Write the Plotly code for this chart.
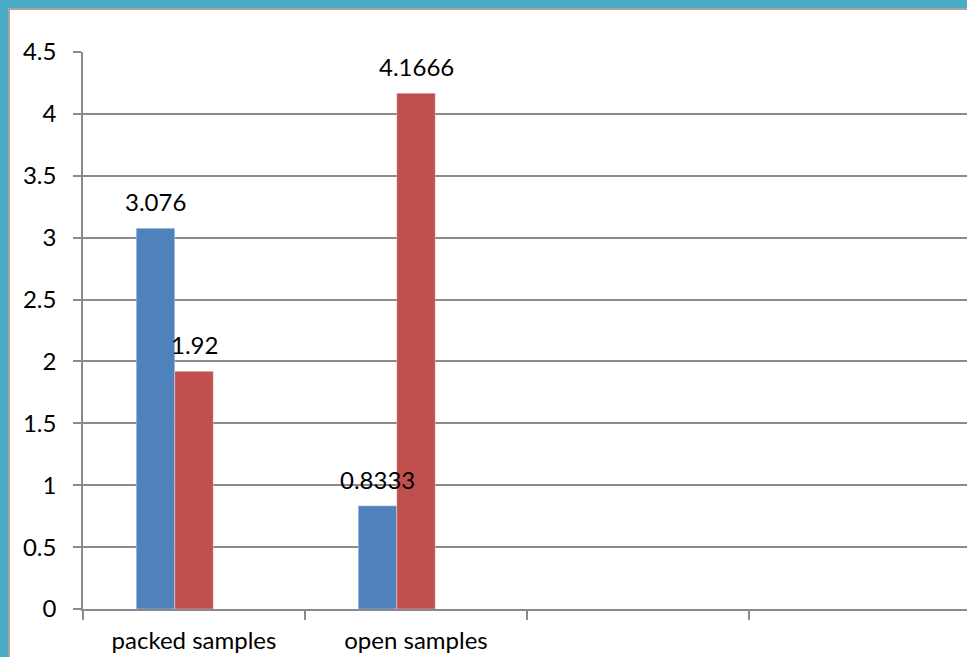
import plotly.graph_objects as go

categories = ["packed samples", "open samples", "", ""]
series_a = [3.076, 0.8333, None, None]
series_b = [1.92, 4.1666, None, None]
label_a = ["3.076", "0.8333", "", ""]
label_b = ["1.92", "4.1666", "", ""]
y_ticks = [0, 0.5, 1, 1.5, 2, 2.5, 3, 3.5, 4, 4.5]

W = 0.1735
FONT = "Lato"
FS = 24
GRID = "#8a8a8a"

xs = list(range(len(categories)))

fig = go.Figure()
fig.add_trace(go.Bar(x=xs, y=series_a, width=W, offset=-1.5 * W,
                     marker=dict(color="#4F81BD", line=dict(color="rgba(255,255,255,0.35)", width=1)),
                     showlegend=False, hoverinfo="skip"))
fig.add_trace(go.Bar(x=xs, y=series_b, width=W, offset=-0.5 * W,
                     marker=dict(color="#C0504D", line=dict(color="rgba(255,255,255,0.35)", width=1)),
                     showlegend=False, hoverinfo="skip"))

annotations = []
for i, (va, vb, la, lb) in enumerate(zip(series_a, series_b, label_a, label_b)):
    if va is not None:
        annotations.append(dict(x=i - W, y=va, text=la, xref="x", yref="y", showarrow=False,
                                yanchor="bottom", xanchor="center", yshift=10,
                                font=dict(family=FONT, size=FS, color="black")))
    if vb is not None:
        annotations.append(dict(x=i, y=vb, text=lb, xref="x", yref="y", showarrow=False,
                                yanchor="bottom", xanchor="center", yshift=10,
                                font=dict(family=FONT, size=FS, color="black")))

shapes = [dict(type="rect", xref="paper", yref="paper",
               x0=(9 - 83) / 884, x1=1.2, y0=-0.3, y1=(609 - 9) / 557,
               fillcolor="white", line=dict(color="#a6a6a6", width=2), layer="below")]

fig.update_layout(
    width=967, height=657,
    margin=dict(l=83, r=0, t=52, b=48),
    paper_bgcolor="#4BACC6",
    plot_bgcolor="white",
    barmode="overlay",
    font=dict(family=FONT, size=FS, color="black"),
    shapes=shapes,
    annotations=annotations,
    xaxis=dict(
        range=[-0.5, 3.482],
        tickmode="array", tickvals=xs, ticktext=categories,
        ticks="", showgrid=False, zeroline=False,
        showline=True, linecolor=GRID, linewidth=1.6,
        ticklabelstandoff=9,
        tickfont=dict(family=FONT, size=FS, color="black"),
        minor=dict(tickmode="array", tickvals=[-0.5, 0.5, 1.5, 2.5, 3.5],
                   ticks="outside", ticklen=9, tickwidth=1.6, tickcolor=GRID, showgrid=False),
    ),
    yaxis=dict(
        range=[0, 4.5], tickmode="array", tickvals=y_ticks,
        ticks="outside", ticklen=8, tickwidth=1.6, tickcolor=GRID,
        showgrid=True, gridcolor=GRID, gridwidth=1.6,
        zeroline=False, showline=True, linecolor=GRID, linewidth=1.6,
        ticklabelstandoff=12,
        tickfont=dict(family=FONT, size=FS, color="black"),
    ),
)

fig.write_html("out.html", config={"displayModeBar": False},
               post_script="document.body.style.margin='0';document.body.style.overflow='hidden';")
